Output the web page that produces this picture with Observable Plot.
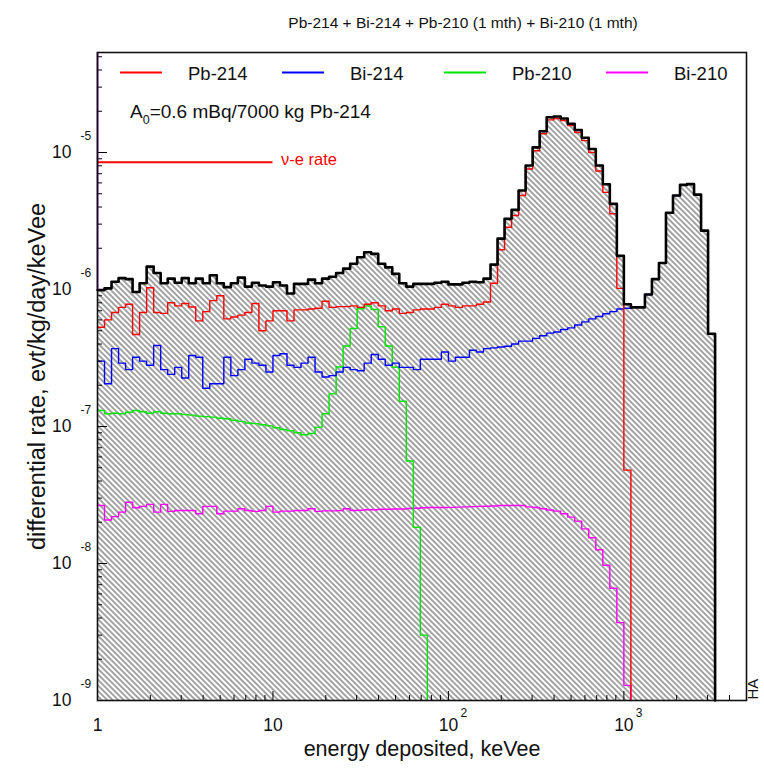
<!DOCTYPE html>
<html><head><meta charset="utf-8">
<script src="https://cdn.jsdelivr.net/npm/d3@7"></script>
<script src="https://cdn.jsdelivr.net/npm/@observablehq/plot@0.6"></script>
<style>body{margin:0;background:#fff} svg{display:block}</style>
</head><body><div id="chart"></div>
<script>
// Histogram bins: log-spaced, 25 bins per decade starting at 1 keV (edge k = 10^(k/25))
const binsPerDecade = 25;
const binStart = 1;

// Total (sum) spectrum, evt/kg/day/keVee
const total = [9.9e-7,1.02e-6,1.14e-6,1.21e-6,1.19e-6,9.6e-7,1.11e-6,1.47e-6,1.32e-6,1.11e-6,
 1.20e-6,1.12e-6,1.21e-6,1.11e-6,1.20e-6,1.11e-6,1.27e-6,1.11e-6,1.04e-6,1.11e-6,
 1.22e-6,1.05e-6,1.12e-6,1.07e-6,1.05e-6,1.13e-6,1.07e-6,9.35e-7,1.10e-6,1.10e-6,
 1.18e-6,1.11e-6,1.20e-6,1.24e-6,1.32e-6,1.42e-6,1.54e-6,1.72e-6,1.87e-6,1.82e-6,
 1.54e-6,1.45e-6,1.30e-6,1.11e-6,1.05e-6,1.10e-6,1.10e-6,1.10e-6,1.12e-6,1.14e-6,
 1.09e-6,1.09e-6,1.12e-6,1.14e-6,1.13e-6,1.20e-6,1.52e-6,2.35e-6,3.28e-6,3.81e-6,
 5.28e-6,8.03e-6,1.09e-5,1.43e-5,1.81e-5,1.83e-5,1.77e-5,1.62e-5,1.46e-5,1.28e-5,
 1.06e-5,8.03e-6,5.87e-6,4.22e-6,1.76e-6,7.8e-7,7.4e-7,7.4e-7,9.2e-7,1.19e-6,
 1.56e-6,3.63e-6,4.85e-6,5.80e-6,5.88e-6,4.93e-6,2.69e-6,4.75e-7];

const pb214 = [5.3e-7,6.0e-7,6.8e-7,7.4e-7,7.8e-7,4.7e-7,6.8e-7,1.03e-6,6.8e-7,6.7e-7,
 8.0e-7,7.6e-7,7.9e-7,7.45e-7,5.9e-7,6.9e-7,8.3e-7,9.0e-7,6.1e-7,6.3e-7,
 6.5e-7,6.8e-7,7.9e-7,5.0e-7,5.9e-7,7.0e-7,7.0e-7,5.9e-7,7.1e-7,7.1e-7,
 7.2e-7,7.3e-7,8.2e-7,7.4e-7,7.5e-7,7.5e-7,7.6e-7,7.4e-7,7.8e-7,8.0e-7,
 7.6e-7,7.0e-7,7.2e-7,6.7e-7,6.8e-7,7.1e-7,7.2e-7,7.2e-7,7.4e-7,7.8e-7,
 7.6e-7,7.4e-7,7.6e-7,7.6e-7,7.8e-7,8.1e-7,1.11e-6,1.95e-6,2.85e-6,3.47e-6,
 4.85e-6,7.58e-6,1.03e-5,1.37e-5,1.73e-5,1.77e-5,1.71e-5,1.57e-5,1.40e-5,1.22e-5,
 1.00e-5,7.33e-6,5.12e-6,3.57e-6,1.02e-6,4.8e-8];

const bi214 = [3.0e-7,2.05e-7,3.7e-7,2.9e-7,2.6e-7,3.2e-7,3.0e-7,2.8e-7,3.9e-7,2.6e-7,
 2.4e-7,2.7e-7,2.26e-7,3.3e-7,3.2e-7,1.9e-7,2.05e-7,2.05e-7,3.2e-7,2.35e-7,
 2.6e-7,3.1e-7,2.9e-7,2.8e-7,2.5e-7,3.3e-7,3.4e-7,2.8e-7,2.7e-7,2.9e-7,
 3.2e-7,2.5e-7,2.3e-7,2.35e-7,2.5e-7,2.7e-7,2.6e-7,2.55e-7,2.9e-7,3.35e-7,
 3.1e-7,2.8e-7,2.9e-7,2.7e-7,2.7e-7,2.6e-7,3.1e-7,3.1e-7,3.1e-7,3.5e-7,
 3.0e-7,3.2e-7,3.2e-7,3.6e-7,3.5e-7,3.7e-7,3.75e-7,3.8e-7,3.85e-7,4.0e-7,
 4.2e-7,4.2e-7,4.4e-7,4.6e-7,4.8e-7,4.9e-7,5.1e-7,5.25e-7,5.5e-7,5.8e-7,
 6.1e-7,6.35e-7,6.65e-7,6.9e-7,7.2e-7,7.3e-7,7.4e-7,7.4e-7,9.2e-7,1.19e-6,
 1.56e-6,3.63e-6,4.85e-6,5.80e-6,5.88e-6,4.93e-6,2.69e-6,4.75e-7];

const pb210 = [1.31e-7,1.24e-7,1.25e-7,1.24e-7,1.27e-7,1.31e-7,1.28e-7,1.25e-7,1.28e-7,1.25e-7,
 1.24e-7,1.24e-7,1.22e-7,1.21e-7,1.19e-7,1.18e-7,1.17e-7,1.15e-7,1.14e-7,1.11e-7,
 1.09e-7,1.06e-7,1.05e-7,1.03e-7,1.01e-7,9.8e-8,9.5e-8,9.3e-8,9.0e-8,8.7e-8,
 8.9e-8,9.9e-8,1.24e-7,1.73e-7,2.72e-7,3.87e-7,5.19e-7,7.23e-7,7.58e-7,7.15e-7,
 5.34e-7,3.87e-7,2.71e-7,1.53e-7,5.6e-8,1.84e-8,3.0e-9];

const bi210 = [2.65e-8,2.08e-8,2.20e-8,2.37e-8,2.80e-8,2.55e-8,2.61e-8,2.70e-8,2.37e-8,2.70e-8,
 2.40e-8,2.44e-8,2.44e-8,2.44e-8,2.31e-8,2.61e-8,2.61e-8,2.31e-8,2.41e-8,2.41e-8,
 2.51e-8,2.44e-8,2.40e-8,2.44e-8,2.61e-8,2.37e-8,2.41e-8,2.41e-8,2.44e-8,2.44e-8,
 2.51e-8,2.40e-8,2.42e-8,2.42e-8,2.43e-8,2.51e-8,2.44e-8,2.45e-8,2.47e-8,2.47e-8,
 2.49e-8,2.49e-8,2.50e-8,2.50e-8,2.52e-8,2.53e-8,2.55e-8,2.56e-8,2.56e-8,2.56e-8,
 2.57e-8,2.58e-8,2.59e-8,2.60e-8,2.61e-8,2.62e-8,2.63e-8,2.65e-8,2.65e-8,2.65e-8,
 2.65e-8,2.59e-8,2.56e-8,2.51e-8,2.46e-8,2.41e-8,2.31e-8,2.18e-8,2.04e-8,1.79e-8,
 1.54e-8,1.26e-8,9.7e-9,6.6e-9,3.7e-9,1.29e-9];

// nu-e rate reference line
const nuE = [{x1: 1, x2: 10, y: 8.5e-6, label: "ν-e rate"}];

const seriesNames = ["Pb-214", "Bi-214", "Pb-210", "Bi-210"];
const seriesColors = ["#ff0000", "#0000ff", "#00e600", "#ff00ff"];
const seriesData = [pb214, bi214, pb210, bi210];

const xTickValues = [1, 10, 100, 1000];
const xTickBase = ["1", "10", "10", "10"];
const xTickExp = ["", "", "2", "3"];
const yTickValues = [1e-9, 1e-8, 1e-7, 1e-6, 1e-5];
const yTickBase = ["10", "10", "10", "10", "10"];
const yTickExp = ["-9", "-8", "-7", "-6", "-5"];

const titleText = "Pb-214 + Bi-214 + Pb-210 (1 mth) + Bi-210 (1 mth)";
const xLabelText = "energy deposited, keVee";
const yLabelText = "differential rate, evt/kg/day/keVee";

const xDomain = [1, 5000];
const yDomain = [1e-9, 5.37e-5];

// ---- build step points ----
const edge = k => binStart * Math.pow(10, k / binsPerDecade);
const floor = yDomain[0];
function stepPts(arr) {
  const pts = arr.map((v, k) => ({x: edge(k), y: v}));
  pts.push({x: edge(arr.length), y: floor});
  return pts;
}
const totalPts = stepPts(total);

const W = 764, H = 769;
const mT = 52, mR = 18, mB = 69, mL = 97;
const plotW = W - mL - mR, plotH = H - mT - mB;

const xMinor = [], yMinor = [];
for (let d = 1; d <= 1000; d *= 10) for (let m = 2; m <= 9; m++) if (d * m < xDomain[1]) xMinor.push(d * m);
for (let d = 1e-9; d <= 1e-5 * 1.01; d *= 10) for (let m = 2; m <= 9; m++) if (d * m < yDomain[1]) yMinor.push(d * m);

const xLabels = xTickValues.map((v, i) => ({v, base: xTickBase[i], exp: xTickExp[i]}));
const yLabels = yTickValues.map((v, i) => ({v, base: yTickBase[i], exp: yTickExp[i]}));

const font = "'Liberation Sans', Arial, Helvetica, sans-serif";

const marks = [
  Plot.areaY(totalPts, {x: "x", y1: floor, y2: "y", curve: "step-after", fill: "url(#hatch)"}),
];
for (let i = seriesData.length - 1; i >= 0; i--) {
  marks.push(Plot.line(stepPts(seriesData[i]), {x: "x", y: "y", curve: "step-after", stroke: seriesColors[i], strokeWidth: 1.4}));
}
marks.push(
  Plot.line(totalPts, {x: "x", y: "y", curve: "step-after", stroke: "#000", strokeWidth: 2.6}),
  Plot.ruleX([xDomain[0]], {x: d => d, y1: total[0], y2: yDomain[1], stroke: "#b050d0", strokeWidth: 2}),
  Plot.ruleY(nuE, {x1: "x1", x2: "x2", y: "y", stroke: "#ff0000", strokeWidth: 2}),
  Plot.text(nuE, {x: "x2", y: "y", text: "label", dx: 8, dy: -2, textAnchor: "start", fill: "#ff0000", fontSize: 16.5}),
  // ticks
  Plot.ruleX(xTickValues, {x: d => d, insetTop: plotH - 9, stroke: "#000", strokeWidth: 1}),
  Plot.ruleX(xMinor, {x: d => d, insetTop: plotH - 5, stroke: "#000", strokeWidth: 1}),
  Plot.ruleY(yTickValues, {y: d => d, insetRight: plotW - 10, stroke: "#000", strokeWidth: 1}),
  Plot.ruleY(yMinor, {y: d => d, insetRight: plotW - 5, stroke: "#000", strokeWidth: 1}),
  Plot.frame({stroke: "#111", strokeWidth: 1.6}),
  // tick labels
  Plot.text(xLabels, {x: "v", text: "base", frameAnchor: "bottom", dy: 30, textAnchor: "middle", fontSize: 17.5, fill: "#111"}),
  Plot.text(xLabels, {x: "v", text: "exp", frameAnchor: "bottom", dy: 16, dx: 12, textAnchor: "start", fontSize: 12, fill: "#111"}),
  Plot.text(yLabels, {y: "v", text: "base", frameAnchor: "left", dx: -26, textAnchor: "end", fontSize: 17.5, fill: "#111"}),
  Plot.text(yLabels, {y: "v", text: "exp", frameAnchor: "left", dx: -17, dy: -16, textAnchor: "start", fontSize: 12, fill: "#111"}),
  // titles
  Plot.text([titleText], {frameAnchor: "top", dy: -36, dx: 41, textAnchor: "middle", fontSize: 15.5, fill: "#111"}),
  Plot.text([xLabelText], {frameAnchor: "bottom", dy: 55, textAnchor: "middle", fontSize: 21.5, fill: "#111"}),
  Plot.text([yLabelText], {frameAnchor: "left", dx: -60, rotate: -90, textAnchor: "middle", fontSize: 23.5, fill: "#111"}),
  Plot.text(["HA"], {frameAnchor: "bottom-right", dx: 11, dy: -1, rotate: -90, textAnchor: "start", fontSize: 15, fill: "#111"})
);

const chart = Plot.plot({
  width: W, height: H,
  marginTop: mT, marginRight: mR, marginBottom: mB, marginLeft: mL,
  x: {type: "log", domain: xDomain, axis: null},
  y: {type: "log", domain: yDomain, axis: null},
  style: {fontFamily: font, fontSize: "16px", background: "#fff", overflow: "visible"},
  marks
});
document.getElementById("chart").appendChild(chart);

// hatch pattern
const svg = d3.select(chart);
svg.insert("defs", ":first-child").html(
  '<pattern id="hatch" patternUnits="userSpaceOnUse" width="3.9" height="3.9" patternTransform="rotate(45)">' +
  '<line x1="0" y1="1.95" x2="3.9" y2="1.95" stroke="#333" stroke-width="0.9"/></pattern>');

// legend (layout inside the frame top)
const leg = svg.append("g").attr("font-family", font).attr("text-anchor", "start");
seriesNames.forEach((name, i) => {
  const x0 = 120 + 162 * i;
  leg.append("line").attr("x1", x0).attr("x2", x0 + 42).attr("y1", 72.5).attr("y2", 72.5)
    .attr("stroke", seriesColors[i]).attr("stroke-width", 2);
  leg.append("text").attr("x", x0 + 68).attr("y", 79.5).attr("font-size", 18.5).attr("fill", "#111").text(name);
});
// activity annotation with subscript
const ann = leg.append("text").attr("x", 130).attr("y", 118).attr("font-size", 19).attr("fill", "#111");
ann.append("tspan").text("A");
ann.append("tspan").attr("dy", 6).attr("font-size", 12.5).text("0");
ann.append("tspan").attr("dy", -6).text("=0.6 mBq/7000 kg Pb-214");
</script>
</body></html>
